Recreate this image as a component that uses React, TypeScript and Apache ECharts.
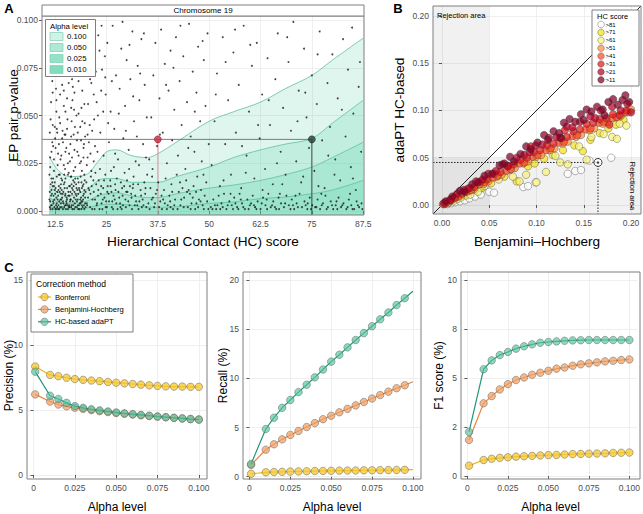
import React, { useEffect, useRef } from "react";
import * as echarts from "echarts";

const FONT = "'Liberation Sans', Arial, Helvetica, sans-serif";

// ---------------- Panel A data ----------------
const hcTicks = [12.5, 25, 37.5, 50, 62.5, 75, 87.5];
const hcTickLabels = ["12.5", "25", "37.5", "50", "62.5", "75", "87.5"];
const pTicks = [0, 0.025, 0.05, 0.075, 0.1];
const pTickLabels = ["0.000", "0.025", "0.050", "0.075", "0.100"];
const alphaLegend = ["0.100", "0.050", "0.025", "0.010"];

const curveHC = [11, 13, 16, 20, 23, 25, 27.5, 31, 35, 37.5, 42, 50, 56, 62.5, 68.5, 75, 80, 87.5];
const curveAlpha100 = [0.029, 0.022, 0.018, 0.019, 0.026, 0.031, 0.032, 0.029, 0.028, 0.03, 0.036, 0.047, 0.052, 0.057, 0.064, 0.071, 0.079, 0.0905];
const curveAlpha050 = [0.013, 0.01, 0.008, 0.011, 0.016, 0.017, 0.017, 0.015, 0.015, 0.015, 0.018, 0.023, 0.028, 0.032, 0.035, 0.038, 0.046, 0.058];
const curveAlpha025 = [0.007, 0.005, 0.004, 0.005, 0.008, 0.009, 0.0095, 0.008, 0.007, 0.007, 0.009, 0.012, 0.0136, 0.016, 0.019, 0.023, 0.028, 0.036];
const curveAlpha010 = [0.002, 0.0015, 0.001, 0.0015, 0.003, 0.0035, 0.0035, 0.003, 0.002, 0.002, 0.0022, 0.004, 0.0047, 0.0065, 0.0073, 0.009, 0.011, 0.016];

const markedLow = [37.5, 0.0375];
const markedHigh = [75, 0.0375];

const epPairs = [
  [11.2,.002],[11.5,.008],[11.8,.015],[12.1,.004],[12.4,.011],[12.6,.001],[12.9,.018],[13.1,.006],[13.4,.013],[13.7,.002],[13.9,.009],[14.2,.016],[14.5,.004],[14.8,.012],[15.1,.001],[15.3,.007],[15.6,.019],[15.9,.003],[16.2,.010],[16.5,.014],[16.8,.005],[17.1,.001],[17.4,.017],[17.7,.008],[18.0,.003],[18.3,.012],[18.6,.006],[18.9,.015],[19.2,.002],[19.5,.009],[19.8,.004],
  [11.3,.005],[11.9,.001],[12.2,.013],[12.8,.007],[13.3,.003],[13.6,.019],[14.0,.006],[14.4,.001],[14.9,.008],[15.4,.012],[15.8,.002],[16.1,.005],[16.6,.009],[17.0,.013],[17.3,.004],[17.9,.011],[18.4,.001],[18.8,.007],[19.4,.014],[19.9,.010],
  [11.6,.011],[12.0,.017],[12.7,.003],[13.0,.010],[13.5,.005],[14.1,.002],[14.6,.014],[15.0,.017],[15.5,.003],[16.0,.008],[16.4,.002],[16.9,.016],[17.5,.006],[18.1,.009],[18.7,.018],[19.1,.005],[19.6,.001],
  [11.4,.014],[12.3,.006],[13.2,.001],[13.8,.012],[14.3,.009],[14.7,.019],[15.2,.005],[15.7,.010],[16.3,.018],[16.7,.001],[17.2,.010],[17.8,.002],[18.2,.015],[18.5,.004],[19.0,.012],[19.7,.016],
  [11.1,.019],[11.7,.003],[12.5,.009],[13.9,.004],[14.9,.003],[16.1,.013],[17.6,.014],[18.9,.001],[19.3,.008],
  [11.3,.023],[11.6,.031],[11.9,.045],[12.2,.027],[12.5,.038],[12.8,.052],[13.1,.024],[13.4,.035],[13.7,.061],[14.0,.029],[14.3,.042],[14.6,.055],[14.9,.022],[15.2,.033],[15.5,.048],[15.8,.067],[16.1,.026],[16.4,.039],[16.7,.058],[17.0,.021],[17.3,.044],[17.6,.072],[17.9,.031],[18.2,.051],[18.5,.025],[18.8,.037],[19.1,.063],[19.4,.028],[19.7,.046],
  [11.5,.057],[11.8,.068],[12.1,.075],[12.4,.083],[12.7,.064],[13.0,.071],[13.3,.088],[13.6,.079],[13.9,.094],[14.2,.066],[14.5,.081],[14.8,.073],[15.1,.091],[15.4,.059],[15.7,.085],[16.0,.077],[16.3,.097],[16.6,.069],[16.9,.082],[17.2,.062],[17.5,.089],[17.8,.095],[18.1,.074],[18.4,.084],[18.7,.099],[19.0,.078],[19.3,.087],[19.6,.056],[19.9,.092],
  [11.2,.041],[12.0,.034],[12.9,.043],[13.5,.049],[14.4,.036],[15.0,.040],[15.9,.030],[16.5,.047],[17.1,.053],[18.0,.041],[18.9,.054],[19.5,.035],
  [20.3,.003],[20.8,.011],[21.2,.018],[21.6,.006],[22.1,.001],[22.5,.014],[22.9,.008],[23.4,.022],[23.8,.004],[24.2,.012],[24.7,.019],[25.1,.002],[25.5,.009],[25.9,.016],[26.4,.005],[26.8,.023],[27.2,.011],[27.7,.001],[28.1,.007],[28.5,.015],[29.0,.003],[29.4,.020],[29.8,.010],[30.3,.005],[30.7,.013],[31.2,.001],[31.6,.018],[32.0,.008],[32.5,.003],[32.9,.024],[33.3,.011],[33.8,.006],[34.2,.015],[34.7,.002],
  [20.5,.007],[21.0,.002],[21.9,.010],[22.7,.004],[23.1,.016],[24.0,.001],[24.5,.007],[25.3,.013],[26.1,.021],[26.6,.001],[27.5,.017],[28.3,.004],[28.8,.012],[29.6,.006],[30.5,.022],[31.0,.009],[31.9,.003],[32.7,.014],[33.6,.002],[34.4,.009],
  [20.1,.015],[21.4,.013],[22.3,.020],[23.6,.009],[24.9,.005],[26.2,.010],[27.0,.006],[28.7,.001],[30.0,.016],[31.4,.012],[33.0,.005],[34.9,.019],
  [20.4,.028],[20.9,.045],[21.3,.067],[21.8,.083],[22.2,.034],[22.6,.057],[23.0,.092],[23.5,.041],[23.9,.074],[24.3,.029],[24.8,.061],[25.2,.088],[25.6,.036],[26.0,.052],[26.5,.097],[26.9,.043],[27.3,.071],[27.8,.027],[28.2,.064],[28.6,.085],[29.1,.038],[29.5,.055],[29.9,.079],[30.4,.032],[30.8,.069],[31.3,.094],[31.7,.047],[32.1,.026],[32.6,.076],[33.0,.058],[33.5,.090],[33.9,.035],[34.3,.066],[34.8,.049],
  [20.6,.075],[21.1,.095],[22.0,.048],[22.8,.031],[23.7,.063],[24.6,.081],[25.4,.046],[26.3,.068],[27.1,.030],[28.0,.051],[28.9,.099],[29.7,.042],[30.6,.087],[31.5,.060],[32.4,.039],[33.2,.072],[34.1,.093],[34.6,.028],
  [35.2,.004],[35.7,.012],[36.1,.018],[36.6,.002],[37.0,.009],[37.6,.015],[38.1,.005],[38.5,.001],[39.0,.011],[39.4,.017],[39.9,.003],[40.3,.008],[40.8,.014],[41.2,.001],[41.7,.006],[42.1,.019],[42.6,.010],[43.0,.003],[43.5,.012],[43.9,.007],[44.4,.016],[44.8,.002],[45.3,.009],[45.7,.004],[46.2,.013],[46.6,.001],[47.1,.018],[47.5,.006],[48.0,.011],[48.4,.003],[48.9,.008],[49.3,.015],[49.8,.001],
  [36.3,.007],[38.8,.006],[40.6,.002],[42.9,.015],[45.0,.011],[46.9,.004],[48.6,.019],
  [35.4,.027],[35.9,.049],[36.4,.071],[36.9,.088],[37.3,.034],[37.9,.059],[38.3,.095],[38.7,.041],[39.2,.077],[39.7,.025],[40.1,.063],[40.6,.084],[41.0,.037],[41.5,.053],[41.9,.091],[42.4,.029],[42.8,.068],[43.3,.045],[43.7,.081],[44.2,.022],[44.6,.057],[45.1,.098],[45.5,.039],[46.0,.073],[46.4,.031],[46.9,.062],[47.3,.086],[47.8,.047],[48.2,.026],[48.7,.079],[49.1,.055],[49.6,.093],[49.9,.035],
  [50.4,.002],[51.0,.006],[51.7,.001],[52.3,.008],[53.0,.004],[53.6,.009],[54.2,.001],[54.9,.005],[55.5,.003],[56.1,.007],[56.8,.002],[57.4,.009],[58.0,.004],[58.7,.001],[59.3,.006],[59.9,.003],[60.6,.008],[61.2,.002],[61.8,.005],[62.5,.001],[63.1,.007],[63.7,.003],[64.4,.009],[65.0,.002],[65.6,.005],[66.3,.001],[66.9,.007],[67.5,.004],[68.2,.002],[68.8,.008],[69.4,.003],[70.1,.006],[70.7,.001],[71.3,.004],[72.0,.009],[72.6,.002],[73.2,.005],[73.9,.001],[74.5,.007],[75.1,.003],[75.8,.002],[76.4,.006],[77.0,.001],[77.7,.004],[78.3,.008],[78.9,.002],[79.6,.005],[80.2,.001],[80.8,.003],[81.5,.007],[82.1,.002],[82.7,.004],[83.4,.001],[84.0,.006],[84.6,.003],[85.3,.001],[85.9,.005],[86.5,.002],[87.1,.004],
  [52.0,.003],[55.2,.009],[57.7,.006],[60.2,.004],[64.0,.006],[67.2,.009],[71.0,.008],[74.0,.004],[77.3,.009],[81.0,.005],[84.3,.009],
  [50.6,.024],[51.3,.047],[51.9,.072],[52.6,.013],[53.3,.091],[53.9,.035],[54.6,.058],[55.3,.019],[55.9,.083],[56.5,.041],[57.2,.066],[57.8,.012],[58.4,.097],[59.1,.029],[59.7,.052],[60.4,.076],[61.0,.017],[61.6,.088],[62.3,.038],[62.9,.061],[63.6,.022],[64.2,.080],[64.8,.045],[65.5,.014],[66.1,.069],[66.7,.093],[67.4,.031],[68.0,.054],[68.6,.019],[69.3,.078],[69.9,.042],[70.5,.099],[71.2,.026],[71.8,.063],[72.4,.015],[73.1,.085],[73.7,.049],[74.3,.033],[75.0,.071],[75.6,.021],[76.2,.056],[76.9,.094],[77.5,.037],[78.1,.012],[78.8,.067],[79.4,.044],[80.0,.082],[80.7,.027],[81.3,.059],[81.9,.016],[82.6,.090],[83.2,.039],[83.8,.074],[84.5,.023],[85.1,.051],[85.7,.011],[86.4,.065],[87.0,.031],
  [53.5,.016],[58.9,.020],[63.0,.011],[67.8,.014],[72.9,.018],[76.6,.013],[80.5,.019],[85.0,.017],
  [11.1,.006],[11.4,.001],[11.7,.009],[12.0,.005],[12.3,.002],[12.6,.012],[12.9,.004],[13.2,.008],[13.5,.001],[13.8,.006],[14.1,.011],[14.4,.005],[14.7,.002],[15.0,.009],[15.3,.004],[15.6,.001],[15.9,.013],[16.2,.006],[16.5,.003],[16.8,.011],[17.1,.007],[17.4,.002],[17.7,.012],[18.0,.006],[18.3,.003],[18.6,.010],[18.9,.005],[19.2,.013],[19.5,.003],[19.8,.007],
  [11.2,.010],[11.9,.013],[12.4,.015],[13.0,.002],[13.6,.010],[14.2,.007],[14.8,.015],[15.4,.006],[16.0,.002],[16.6,.012],[17.2,.015],[17.8,.005],[18.4,.011],[19.0,.003],[19.6,.011],
  [11.5,.003],[12.1,.008],[12.7,.001],[13.3,.011],[13.9,.014],[14.5,.010],[15.1,.003],[15.7,.008],[16.3,.006],[16.9,.003],[17.5,.009],[18.1,.001],[18.7,.004],[19.3,.006],[19.9,.002],
  [11.3,.028],[11.8,.036],[12.2,.021],[12.6,.033],[13.0,.041],[13.4,.019],[13.8,.027],[14.2,.038],[14.6,.024],[15.0,.031],[15.4,.043],[15.8,.020],[16.2,.035],[16.6,.028],[17.0,.040],[17.4,.023],[17.8,.037],[18.2,.029],[18.6,.044],[19.0,.021],[19.4,.033],[19.8,.039],[20.2,.024],[20.7,.036],[21.1,.030],[21.5,.042],[21.9,.026],
  [11.6,.017],[12.4,.044],[13.2,.030],[14.0,.017],[14.8,.040],[15.6,.025],[16.4,.018],[17.2,.032],[18.0,.017],[18.8,.026],[19.6,.019],[20.4,.040],[21.3,.021],
  [11.4,.048],[11.9,.062],[12.3,.091],[12.8,.058],[13.2,.077],[13.7,.046],[14.1,.087],[14.6,.063],[15.0,.052],[15.5,.074],[15.9,.093],[16.4,.054],[16.8,.065],[17.3,.086],[17.7,.050],[18.2,.068],[18.6,.079],[19.1,.047],[19.5,.071],[20.0,.088],[20.5,.056],[21.0,.069],[21.4,.090],[21.9,.061],[22.4,.073],[22.9,.050],[23.3,.084],[23.8,.097],[24.2,.052],[24.7,.070],
  [20.2,.004],[20.6,.012],[21.1,.009],[21.5,.001],[21.8,.016],[22.2,.006],[22.6,.003],[23.0,.011],[23.3,.001],[23.7,.013],[24.1,.006],[24.4,.016],[24.8,.002],[25.2,.010],[25.6,.005],[26.0,.013],[26.3,.002],[26.7,.008],[27.1,.014],[27.4,.004],[27.9,.010],[28.4,.002],[28.9,.008],[29.3,.013],[29.7,.002],[30.1,.010],[30.6,.003],[31.1,.007],[31.5,.014],[32.2,.005],[32.8,.001],[33.4,.008],[34.0,.003],[34.5,.012],
  [35.5,.001],[36.0,.006],[36.8,.004],[37.3,.011],[37.8,.002],[38.4,.008],[39.2,.004],[39.7,.001],[40.5,.005],[41.0,.010],[41.5,.003],[42.3,.001],[43.2,.006],[43.8,.002],[44.6,.010],[45.5,.001],[46.0,.007],[46.8,.010],[47.3,.002],[47.9,.005],[48.7,.001],[49.5,.005],
  [50.8,.001],[51.4,.003],[52.7,.001],[53.3,.002],[54.5,.003],[55.8,.001],[56.4,.004],[57.1,.001],[58.3,.002],[59.6,.001],[60.9,.003],[61.5,.001],[62.8,.004],[64.1,.001],[65.3,.003],[66.0,.002],[67.0,.001],[68.5,.004],[69.8,.001],[70.4,.003],[71.6,.002],[73.5,.003],[74.8,.001],[76.1,.002],[77.4,.003],[78.6,.001],[79.9,.003],[81.2,.001],[82.4,.003],[83.7,.002],[84.9,.001],[86.2,.003],[87.3,.001],
  [36.2,.022],[38.0,.040],[39.5,.066],[41.3,.075],[43.0,.097],[44.9,.033],[46.5,.052],[48.4,.089],[51.6,.061],[54.0,.078],[56.3,.095],[58.0,.034],[60.0,.087],[61.9,.045],[64.5,.058],[66.5,.025],[69.0,.091],[71.5,.047],[73.4,.062],[76.4,.082],[79.0,.029],[82.3,.053],[84.8,.096],[86.7,.078],
];

// ---------------- Panel B data ----------------
const bTicks = [0, 0.05, 0.1, 0.15, 0.2];
const bTickLabels = ["0.00", "0.05", "0.10", "0.15", "0.20"];
const rejectionCut = 0.05;
const markedBH = 0.165;
const markedAdapt = 0.045;
const hcClassLabels = [">81", ">71", ">61", ">51", ">41", ">31", ">21", ">11"];
const hcClassColors = ["#ffffff", "#f2e21c", "#f7f37a", "#fd8d3c", "#fc4e2a", "#e31a1c", "#bd0026", "#800026"];

const hc81 = [[0.002,0.001],[0.006,0.001],[0.01,0.002],[0.014,0.003],[0.019,0.004],[0.024,0.005],[0.029,0.007],[0.035,0.009],[0.041,0.011],[0.05,0.014],[0.055,0.013],[0.086,0.019],[0.091,0.02],[0.099,0.024],[0.133,0.033],[0.141,0.036],[0.147,0.037],[0.156,0.047],[0.179,0.05]];
const hc71 = [[0.008,0.003],[0.016,0.006],[0.025,0.01],[0.035,0.016],[0.042,0.018],[0.052,0.023],[0.066,0.03],[0.079,0.025],[0.091,0.041],[0.098,0.044],[0.108,0.049],[0.117,0.053],[0.128,0.058],[0.14,0.063],[0.149,0.057],[0.157,0.069],[0.167,0.076],[0.176,0.081],[0.184,0.085],[0.192,0.09]];
const hc61 = [[0.012,0.004],[0.02,0.008],[0.03,0.011],[0.038,0.014],[0.045,0.02],[0.06,0.027],[0.075,0.03],[0.082,0.025],[0.089,0.032],[0.1,0.024],[0.11,0.035],[0.12,0.052],[0.125,0.045],[0.133,0.043],[0.145,0.062],[0.153,0.048],[0.158,0.072],[0.171,0.075],[0.18,0.072],[0.188,0.086],[0.195,0.084],[0.185,0.07]];
const hc51 = [[0.001,0.001],[0.006,0.002],[0.013,0.007],[0.02,0.01],[0.029,0.015],[0.034,0.017],[0.044,0.022],[0.049,0.025],[0.058,0.03],[0.063,0.032],[0.072,0.037],[0.077,0.039],[0.086,0.044],[0.091,0.046],[0.1,0.051],[0.105,0.053],[0.114,0.058],[0.119,0.06],[0.128,0.065],[0.133,0.067],[0.142,0.072],[0.147,0.074],[0.156,0.079],[0.161,0.081],[0.17,0.086],[0.175,0.088],[0.184,0.093],[0.189,0.094],[0.196,0.098],[0.2,0.101]];
const hc41 = [[0.005,0.003],[0.01,0.005],[0.017,0.009],[0.026,0.014],[0.031,0.016],[0.04,0.022],[0.045,0.024],[0.054,0.029],[0.059,0.031],[0.068,0.036],[0.073,0.038],[0.082,0.044],[0.087,0.045],[0.096,0.051],[0.101,0.053],[0.11,0.058],[0.115,0.06],[0.124,0.066],[0.129,0.067],[0.138,0.073],[0.143,0.074],[0.152,0.08],[0.157,0.081],[0.166,0.087],[0.171,0.088],[0.18,0.092],[0.185,0.093],[0.194,0.098]];
const hc31 = [[0.003,0.001],[0.009,0.006],[0.014,0.008],[0.021,0.012],[0.027,0.017],[0.034,0.019],[0.041,0.025],[0.048,0.027],[0.055,0.033],[0.062,0.035],[0.069,0.041],[0.076,0.043],[0.083,0.048],[0.09,0.05],[0.097,0.056],[0.104,0.058],[0.111,0.063],[0.118,0.065],[0.125,0.071],[0.132,0.072],[0.139,0.078],[0.146,0.08],[0.153,0.086],[0.16,0.087],[0.167,0.091],[0.174,0.092],[0.181,0.096],[0.188,0.095],[0.195,0.1],[0.177,0.085],[0.13,0.079],[0.094,0.062]];
const hc21 = [[0.002,0.002],[0.009,0.005],[0.016,0.012],[0.023,0.016],[0.029,0.018],[0.036,0.025],[0.043,0.027],[0.049,0.033],[0.057,0.036],[0.064,0.043],[0.07,0.041],[0.079,0.05],[0.087,0.053],[0.093,0.056],[0.099,0.063],[0.106,0.064],[0.113,0.071],[0.121,0.072],[0.132,0.083],[0.138,0.082],[0.146,0.088],[0.157,0.094],[0.162,0.092],[0.168,0.1],[0.18,0.104],[0.189,0.1],[0.196,0.107],[0.2,0.098]];
const hc11 = [[0.004,0.004],[0.011,0.009],[0.019,0.015],[0.024,0.014],[0.032,0.022],[0.038,0.024],[0.045,0.031],[0.053,0.033],[0.061,0.042],[0.066,0.044],[0.072,0.051],[0.076,0.046],[0.083,0.054],[0.089,0.062],[0.094,0.059],[0.101,0.066],[0.108,0.074],[0.112,0.069],[0.118,0.078],[0.124,0.076],[0.129,0.087],[0.135,0.091],[0.141,0.088],[0.147,0.096],[0.153,0.101],[0.158,0.099],[0.164,0.104],[0.17,0.101],[0.176,0.109],[0.181,0.112],[0.186,0.106],[0.191,0.111],[0.194,0.116],[0.198,0.109],[0.172,0.095],[0.15,0.09],[0.126,0.071]];
const hcClasses = [hc81, hc71, hc61, hc51, hc41, hc31, hc21, hc11];

// ---------------- Panel C data ----------------
const alphaLevels = [0.001, 0.01, 0.015, 0.02, 0.025, 0.03, 0.035, 0.04, 0.045, 0.05, 0.055, 0.06, 0.065, 0.07, 0.075, 0.08, 0.085, 0.09, 0.095, 0.1];
const alphaTicks = [0, 0.025, 0.05, 0.075, 0.1];
const alphaTickLabels = ["0", "0.025", "0.050", "0.075", "0.100"];
const methods = ["Bonferroni", "Benjamini-Hochberg", "HC-based adaPT"];
const precisionBonf = [8.35, 7.7, 7.6, 7.48, 7.38, 7.32, 7.27, 7.22, 7.16, 7.1, 7.05, 7.0, 6.95, 6.9, 6.85, 6.82, 6.8, 6.8, 6.78, 6.78];
const precisionBH = [6.2, 5.65, 5.42, 5.28, 5.17, 5.08, 4.99, 4.91, 4.84, 4.77, 4.71, 4.65, 4.59, 4.54, 4.49, 4.44, 4.39, 4.35, 4.3, 4.27];
const precisionHC = [7.95, 6.1, 5.85, 5.55, 5.3, 5.17, 5.06, 4.97, 4.89, 4.81, 4.74, 4.68, 4.62, 4.56, 4.5, 4.45, 4.4, 4.35, 4.3, 4.26];
const recallBonf = [0.3, 0.45, 0.48, 0.5, 0.52, 0.54, 0.56, 0.58, 0.59, 0.6, 0.62, 0.63, 0.64, 0.65, 0.66, 0.67, 0.68, 0.69, 0.7, 0.72];
const recallBH = [1.2, 2.75, 3.3, 3.8, 4.25, 4.65, 5.05, 5.45, 5.85, 6.2, 6.55, 6.9, 7.25, 7.6, 7.95, 8.3, 8.65, 9.0, 9.3, 9.65];
const recallHC = [1.3, 4.85, 6.0, 7.0, 7.8, 8.6, 9.35, 10.1, 10.9, 11.7, 12.4, 13.15, 13.9, 14.6, 15.3, 16.0, 16.7, 17.45, 18.15, 18.85];
const f1Bonf = [0.53, 0.82, 0.88, 0.93, 0.96, 0.99, 1.01, 1.03, 1.05, 1.07, 1.08, 1.1, 1.12, 1.13, 1.14, 1.15, 1.16, 1.18, 1.19, 1.2];
const f1BH = [1.84, 3.71, 4.08, 4.42, 4.69, 4.9, 5.03, 5.17, 5.27, 5.37, 5.48, 5.54, 5.63, 5.7, 5.75, 5.8, 5.85, 5.88, 5.92, 5.95];
const f1HC = [2.25, 5.45, 5.9, 6.17, 6.33, 6.5, 6.62, 6.72, 6.8, 6.84, 6.87, 6.9, 6.92, 6.93, 6.94, 6.94, 6.94, 6.94, 6.94, 6.94];
const precisionTicks = [0, 5, 10, 15];
const precisionTickLabels = ["0", "5", "10", "15"];
const recallTicks = [0, 5, 10, 15, 20];
const recallTickLabels = ["0", "5", "10", "15", "20"];
const f1Ticks = [0, 2.5, 5, 7.5, 10];
const f1TickLabels = ["0", "2", "5", "8", "10"];

// ---------------- layout / style ----------------
const GA = { left: 42, top: 16, width: 322, height: 199 };
const GB = { left: 433, top: 6, width: 208, height: 208 };
const GC1 = { left: 27, top: 272, width: 180, height: 207 };
const GC2 = { left: 243, top: 272, width: 178, height: 207 };
const GC3 = { left: 461, top: 272, width: 179, height: 207 };
const grids = [GA, GB, GC1, GC2, GC3];

const methodLine = ["#eab516", "#e8853a", "#1f9479"];
const methodFill = ["rgba(246,200,52,0.78)", "rgba(240,160,100,0.72)", "rgba(84,196,160,0.66)"];
const bandAlpha = 0.25;
const bandRGB = [70, 205, 160];

function layered(n: number) {
  const a = 1 - Math.pow(1 - bandAlpha, n);
  const c = bandRGB.map((v) => Math.round(255 - (255 - v) * a));
  return `rgb(${c[0]},${c[1]},${c[2]})`;
}

function fmt(ticks: number[], labels: string[]) {
  return (v: number) => {
    const i = ticks.findIndex((t) => Math.abs(t - v) < 1e-9);
    return i >= 0 ? labels[i] : "";
  };
}

function axis(idx: number, min: number, max: number, ticks: number[], labels: string[], fontSize: number) {
  return {
    type: "value",
    gridIndex: idx,
    min,
    max,
    axisLine: { show: false },
    axisTick: { show: true, length: 3, lineStyle: { color: "#333", width: 0.8 }, customValues: ticks },
    axisLabel: {
      customValues: ticks,
      formatter: fmt(ticks, labels),
      color: "#4d4d4d",
      fontSize,
      fontFamily: FONT,
      margin: 4,
    },
    splitLine: { show: true, lineStyle: { color: "#ebebeb", width: 0.8 } },
  };
}

function txt(text: string, x: number, y: number, size: number, opts: any = {}) {
  return {
    type: "text",
    x,
    y,
    rotation: opts.rotation || 0,
    silent: true,
    z: 110,
    style: {
      text,
      x: 0,
      y: 0,
      fill: opts.color || "#000",
      font: `${opts.bold ? "bold " : ""}${size}px ${FONT}`,
      textAlign: opts.align || "center",
      align: opts.align || "center",
      textVerticalAlign: "middle",
      verticalAlign: "middle",
    },
  };
}

function buildOption() {
  const A_X = [9.3, 87.7];
  const A_Y = [-0.0021, 0.1021];
  const B_R = [-0.0095, 0.2105];
  const C_X = [-0.00395, 0.10495];

  const xAxis = [
    axis(0, A_X[0], A_X[1], hcTicks, hcTickLabels, 8.5),
    axis(1, B_R[0], B_R[1], bTicks, bTickLabels, 8.5),
    axis(2, C_X[0], C_X[1], alphaTicks, alphaTickLabels, 8.5),
    axis(3, C_X[0], C_X[1], alphaTicks, alphaTickLabels, 8.5),
    axis(4, C_X[0], C_X[1], alphaTicks, alphaTickLabels, 8.5),
  ];
  const yAxis = [
    axis(0, A_Y[0], A_Y[1], pTicks, pTickLabels, 8.5),
    axis(1, B_R[0], B_R[1], bTicks, bTickLabels, 8.5),
    axis(2, -0.31, 15.62, precisionTicks, precisionTickLabels, 8.5),
    axis(3, -0.23, 20.81, recallTicks, recallTickLabels, 8.5),
    axis(4, -0.15, 10.41, f1Ticks, f1TickLabels, 8.5),
  ];

  const series: any[] = [];

  // Panel A bands
  const curves = [curveAlpha100, curveAlpha050, curveAlpha025, curveAlpha010];
  curves.forEach((c) => {
    series.push({
      type: "line",
      xAxisIndex: 0,
      yAxisIndex: 0,
      smooth: 0.35,
      symbol: "none",
      data: curveHC.map((x, i) => [x, c[i]]),
      lineStyle: { color: "#5fbf9f", width: 0.8 },
      areaStyle: { color: `rgba(${bandRGB.join(",")},${bandAlpha})`, origin: "start" },
      z: 2,
      silent: true,
    });
  });
  series.push({
    type: "line", xAxisIndex: 0, yAxisIndex: 0, symbol: "none", silent: true, z: 3,
    data: [[A_X[0], markedLow[1]], [markedHigh[0], markedHigh[1]]],
    lineStyle: { color: "#5a5a5a", width: 0.8 },
  });
  series.push({
    type: "line", xAxisIndex: 0, yAxisIndex: 0, symbol: "none", silent: true, z: 3,
    data: [[markedLow[0], markedLow[1]], [markedLow[0], A_Y[0]]],
    lineStyle: { color: "rgba(225,130,145,0.55)", width: 1.6 },
  });
  series.push({
    type: "line", xAxisIndex: 0, yAxisIndex: 0, symbol: "none", silent: true, z: 3,
    data: [[markedHigh[0], markedHigh[1]], [markedHigh[0], A_Y[0]]],
    lineStyle: { color: "#3a3a3a", width: 0.9 },
  });
  series.push({
    type: "scatter", xAxisIndex: 0, yAxisIndex: 0, symbolSize: 1.9, silent: true, z: 4,
    data: epPairs,
    itemStyle: { color: "#151515" },
  });
  series.push({
    type: "scatter", xAxisIndex: 0, yAxisIndex: 0, symbolSize: 7, silent: true, z: 5,
    data: [markedLow],
    itemStyle: { color: "#c8283e", borderColor: "#7a1020", borderWidth: 0.6 },
  });
  series.push({
    type: "scatter", xAxisIndex: 0, yAxisIndex: 0, symbolSize: 7, silent: true, z: 5,
    data: [markedHigh],
    itemStyle: { color: "#26403a", borderColor: "#111", borderWidth: 0.6 },
  });

  // Panel B
  series.push({
    type: "line", xAxisIndex: 1, yAxisIndex: 1, symbol: "none", silent: true, z: 2,
    data: [[B_R[0], B_R[0]], [B_R[1], B_R[1]]],
    lineStyle: { color: "#222", width: 1 },
    markArea: {
      silent: true,
      itemStyle: { color: "rgba(0,0,0,0.055)" },
      data: [
        [{ coord: [B_R[0], B_R[0]] }, { coord: [rejectionCut, B_R[1]] }],
        [{ coord: [B_R[0], B_R[0]] }, { coord: [B_R[1], rejectionCut] }],
      ],
    },
  });
  series.push({
    type: "line", xAxisIndex: 1, yAxisIndex: 1, symbol: "none", silent: true, z: 3,
    data: [[B_R[0], markedAdapt], [markedBH, markedAdapt], [markedBH, B_R[0]]],
    lineStyle: { color: "#222", width: 1, type: [1.5, 1.5] },
  });
  hcClasses.forEach((pts, k) => {
    series.push({
      type: "scatter", xAxisIndex: 1, yAxisIndex: 1, symbolSize: 7.5, silent: true, z: 4,
      data: pts,
      itemStyle: { color: hcClassColors[k], opacity: 0.72, borderColor: "#333", borderWidth: 0.5 },
    });
  });
  series.push({
    type: "scatter", xAxisIndex: 1, yAxisIndex: 1, symbolSize: 8, silent: true, z: 6,
    data: [[markedBH, markedAdapt]],
    itemStyle: { color: "#ffffff", borderColor: "#111", borderWidth: 1 },
  });
  series.push({
    type: "scatter", xAxisIndex: 1, yAxisIndex: 1, symbolSize: 2.5, silent: true, z: 7,
    data: [[markedBH, markedAdapt]],
    itemStyle: { color: "#111" },
  });

  // Panel C
  const cSets = [
    [precisionBonf, precisionBH, precisionHC],
    [recallBonf, recallBH, recallHC],
    [f1Bonf, f1BH, f1HC],
  ];
  cSets.forEach((set, p) => {
    set.forEach((vals, m) => {
      series.push({
        type: "line",
        xAxisIndex: 2 + p,
        yAxisIndex: 2 + p,
        symbol: "circle",
        symbolSize: 7.5,
        showSymbol: true,
        showAllSymbol: true,
        silent: true,
        z: 3 + m,
        data: alphaLevels.map((a, i) =>
          p === 1 && i === alphaLevels.length - 1 ? { value: [a, vals[i]], symbol: "none" } : [a, vals[i]]
        ),
        lineStyle: { color: methodLine[m], width: 1.2 },
        itemStyle: { color: methodFill[m], borderColor: "rgba(90,90,90,0.65)", borderWidth: 0.7 },
      });
    });
  });

  // graphics
  const g: any[] = [];
  grids.forEach((gr) => {
    g.push({
      type: "rect", silent: true, z: 100,
      shape: { x: gr.left, y: gr.top, width: gr.width, height: gr.height },
      style: { fill: "none", stroke: "#7f7f7f", lineWidth: 1 },
    });
  });
  g.push({
    type: "rect", silent: true, z: 100,
    shape: { x: GA.left, y: 5, width: GA.width, height: GA.top - 5 },
    style: { fill: "#ffffff", stroke: "#7f7f7f", lineWidth: 1 },
  });
  g.push(txt("Chromosome 19", GA.left + GA.width / 2, 10.8, 8));

  // legend A
  g.push({
    type: "rect", silent: true, z: 105,
    shape: { x: 45.5, y: 19.5, width: 50, height: 57 },
    style: { fill: "#ffffff", stroke: "#7f7f7f", lineWidth: 1 },
  });
  g.push(txt("Alpha level", 50, 26.5, 7.8, { align: "left" }));
  alphaLegend.forEach((lab, k) => {
    const yy = 36.5 + k * 11;
    g.push({
      type: "rect", silent: true, z: 106,
      shape: { x: 50, y: yy - 4, width: 13, height: 8 },
      style: { fill: layered(k + 1), stroke: "#7fcfb3", lineWidth: 0.7 },
    });
    g.push(txt(lab, 67, yy, 7.8, { align: "left" }));
  });

  // legend B
  g.push({
    type: "rect", silent: true, z: 105,
    shape: { x: 592, y: 10, width: 47, height: 76 },
    style: { fill: "#ffffff", stroke: "#7f7f7f", lineWidth: 1 },
  });
  g.push(txt("HC score", 597, 16.5, 7.5, { align: "left" }));
  hcClassLabels.forEach((lab, k) => {
    const yy = 24.5 + k * 7.9;
    g.push({
      type: "circle", silent: true, z: 106,
      shape: { cx: 601, cy: yy, r: 3.3 },
      style: { fill: hcClassColors[k], opacity: 0.72, stroke: "#333", lineWidth: 0.5 },
    });
    g.push(txt(lab, 605.5, yy, 6, { align: "left" }));
  });
  g.push(txt("Rejection area", 437, 15.5, 7.5, { align: "left" }));
  g.push(txt("Rejection area", 632, 186, 7.5, { rotation: -Math.PI / 2 }));

  // legend C
  g.push({
    type: "rect", silent: true, z: 105,
    shape: { x: 31, y: 274, width: 102, height: 58 },
    style: { fill: "#ffffff", stroke: "#7f7f7f", lineWidth: 1 },
  });
  g.push(txt("Correction method", 36, 284, 8.5, { align: "left" }));
  methods.forEach((lab, m) => {
    const yy = 297 + m * 12.4;
    g.push({
      type: "line", silent: true, z: 106,
      shape: { x1: 38, y1: yy, x2: 51, y2: yy },
      style: { stroke: methodLine[m], lineWidth: 1.2 },
    });
    g.push({
      type: "circle", silent: true, z: 107,
      shape: { cx: 44.5, cy: yy, r: 3.7 },
      style: { fill: methodFill[m], stroke: "rgba(90,90,90,0.65)", lineWidth: 0.7 },
    });
    g.push(txt(lab, 55, yy, 7.6, { align: "left" }));
  });

  // panel letters
  g.push(txt("A", 9, 8, 13, { bold: true }));
  g.push(txt("B", 398, 8, 13, { bold: true }));
  g.push(txt("C", 9, 267, 13, { bold: true }));

  // axis titles
  g.push(txt("Hierarchical Contact (HC) score", GA.left + GA.width / 2, 241, 13.6));
  g.push(txt("EP pair p-value", 13, GA.top + GA.height / 2, 13.6, { rotation: Math.PI / 2 }));
  g.push(txt("Benjamini\u2013Hochberg", GB.left + GB.width / 2, 241, 13.6));
  g.push(txt("adaPT HC-based", 399, GB.top + GB.height / 2, 13.6, { rotation: Math.PI / 2 }));
  [GC1, GC2, GC3].forEach((gr) => g.push(txt("Alpha level", gr.left + gr.width / 2, 507, 12)));
  g.push(txt("Precision (%)", 9, GC1.top + GC1.height / 2, 12, { rotation: Math.PI / 2 }));
  g.push(txt("Recall (%)", 223, GC2.top + GC2.height / 2, 12, { rotation: Math.PI / 2 }));
  g.push(txt("F1 score (%)", 439, GC3.top + GC3.height / 2, 12, { rotation: Math.PI / 2 }));

  return {
    animation: false,
    backgroundColor: "#ffffff",
    textStyle: { fontFamily: FONT },
    grid: grids.map((gr) => ({ left: gr.left, top: gr.top, width: gr.width, height: gr.height, containLabel: false })),
    xAxis,
    yAxis,
    series,
    graphic: { elements: g },
  };
}

export default function App() {
  const ref = useRef<HTMLDivElement>(null);
  useEffect(() => {
    document.body.style.margin = "0";
    if (!ref.current) return;
    const chart = echarts.init(ref.current, undefined, { renderer: "svg" });
    chart.setOption(buildOption() as any);
    return () => chart.dispose();
  }, []);
  return <div ref={ref} style={{ width: 643, height: 514 }} />;
}
